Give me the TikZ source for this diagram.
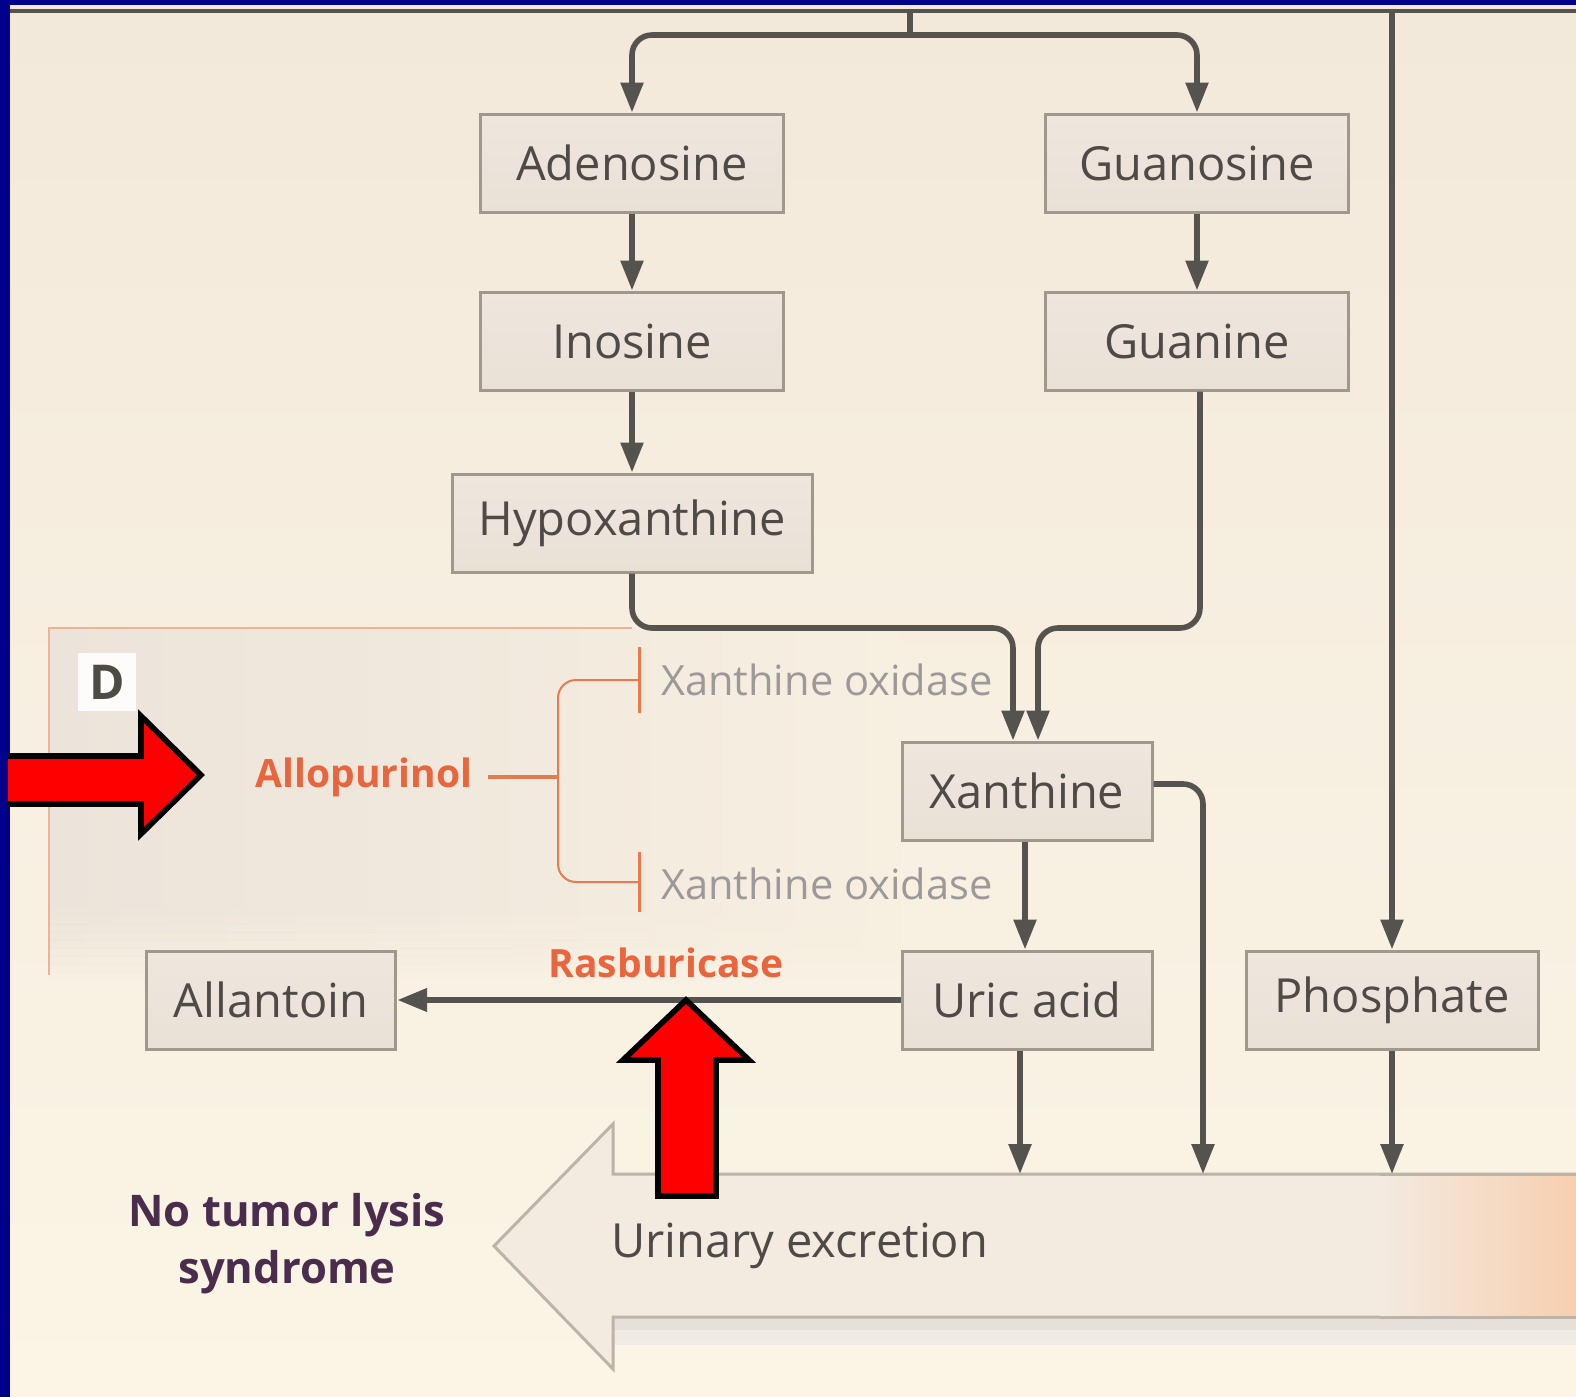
\documentclass[tikz,border=0pt]{standalone}
\usepackage{fontspec}
\setmainfont{Open Sans}
\usetikzlibrary{arrows.meta,calc}
\definecolor{bgblue}{HTML}{00008C}
\definecolor{bgtop}{HTML}{F3E9DB}
\definecolor{bgbot}{HTML}{FBF5E6}
\definecolor{boxfill}{HTML}{EFE7DE}
\definecolor{boxfillb}{HTML}{E9E0D6}
\definecolor{boxline}{HTML}{A0978D}
\definecolor{boxtext}{HTML}{4E4A46}
\definecolor{conn}{HTML}{55534E}
\definecolor{drug}{HTML}{E8653E}
\definecolor{drugline}{HTML}{E87A50}
\definecolor{enz}{HTML}{9C9A98}
\definecolor{panelline}{HTML}{EBB398}
\definecolor{panelfill}{HTML}{ECE3DA}
\definecolor{purp}{HTML}{4A2D4C}
\definecolor{exfill}{HTML}{F3EAE0}
\definecolor{expeach}{HTML}{F7CFB0}
\definecolor{exline}{HTML}{BDB3A8}
\tikzset{
  metab/.style={draw=boxline, line width=1.5pt, top color=boxfill, bottom color=boxfillb,
    minimum height=49pt, inner sep=0pt, text=boxtext, font=\fontsize{23.5}{28}\selectfont},
  arr/.style={draw=conn, line width=2.8pt, -{Triangle[length=15pt,width=11pt]}},
  plain/.style={draw=conn, line width=2.8pt},
  rc/.style={rounded corners=10pt},
  redarrow/.style={fill=red, draw=black, line width=2.8pt, line join=miter},
}
\begin{document}
\begin{tikzpicture}[x=0.5pt,y=-0.5pt]
\useasboundingbox (0,0) rectangle (1576,1397);
% background
\fill[bgblue] (0,0) rectangle (1576,1397);
\shade[top color=bgtop, bottom color=bgbot] (10,5) rectangle (1576,1397);
% panel D
\shade[left color=panelfill, right color=bgtop!50!bgbot] (49,628) rectangle (900,900);
\foreach \i in {0,...,9}{
  \shade[left color=panelfill, right color=bgtop!50!bgbot, opacity={1-\i/10}] (49,900+\i*8) rectangle (900,908+\i*8);
}
\draw[panelline, line width=1pt] (49,975) -- (49,628) -- (632,628);
\node[fill=white!85!bgtop, minimum size=29pt, inner sep=0pt, text=boxtext,
  font=\bfseries\fontsize{24}{30}\selectfont] (dlab) at (107,682) {D};

% top line
\draw[conn, line width=2.3pt] (10,11) -- (1576,11);

% metabolite boxes
\node[metab, minimum width=151.5pt] (aden) at (632,163) {Adenosine};
\node[metab, minimum width=151.5pt] (guano) at (1197,163) {Guanosine};
\node[metab, minimum width=151.5pt] (ino) at (632,341) {Inosine};
\node[metab, minimum width=151.5pt] (guan) at (1197,341) {Guanine};
\node[metab, minimum width=180pt] (hypo) at (632,523) {Hypoxanthine};
\node[metab, minimum width=125pt] (xan) at (1027,791) {Xanthine};
\node[metab, minimum width=125pt] (uric) at (1027,1000) {Uric acid};
\node[metab, minimum width=146pt] (phos) at (1392,1000) {Phosphate};
\node[metab, minimum width=124.5pt] (allan) at (271,1000) {Allantoin};

% urinary excretion arrow
\fill[gray!40, opacity=0.45] (613,1317) rectangle (1576,1330);
\fill[gray!25, opacity=0.4] (613,1330) rectangle (1576,1345);
\path[draw=exline, line width=1.5pt, fill=exfill] (1576,1174) -- (613,1174) -- (613,1124) -- (494,1246)
  -- (613,1369) -- (613,1317) -- (1576,1317);
\shade[left color=exfill, right color=expeach] (1380,1175) rectangle (1576,1316);
\draw[exline, line width=1.5pt] (1380,1174) -- (1576,1174) (1380,1317) -- (1576,1317);
\coordinate (exu) at (1020,1174);
\coordinate (exx) at (1203,1174);
\coordinate (exp) at (1392,1174);
\node[anchor=west, text=boxtext, font=\fontsize{23.5}{28}\selectfont] (urin) at (604,1246) {Urinary excretion};
\node[align=center, text=purp, font=\bfseries\fontsize{21.8}{28.5}\selectfont] (notls) at (287,1244) {No tumor lysis\\syndrome};

% top split
\coordinate (src) at (910,11);
\coordinate (split) at (910,35);
\draw[plain] (src) -- (split);
\draw[arr, rc] (split) -| (aden.north);
\draw[arr, rc] (split) -| (guano.north);
\coordinate (psrc) at (1392,11);
\draw[arr] (psrc) -- (phos.north);

% vertical chain
\draw[arr] (aden.south) -- (ino.north);
\draw[arr] (ino.south) -- (hypo.north);
\draw[arr] (guano.south) -- (guan.north);
\coordinate (jn) at (0,628);
\coordinate (xl) at ([xshift=-7pt]xan.north);
\coordinate (xr) at ([xshift=5.5pt]xan.north);
\draw[arr, rc] (hypo.south) |- (jn -| xl) -- (xl);
\draw[arr, rc] ([xshift=1.5pt]guan.south) |- (jn -| xr) -- (xr);
\draw[arr] ([xshift=-1pt]xan.south) -- ([xshift=-1pt]uric.north);
\draw[arr, rc] ([yshift=3.5pt]xan.east) -| (exx);
\draw[arr] (uric.south -| exu) -- (exu);
\draw[arr] (phos.south) -- (exp);
\draw[arr, line width=3.3pt] (uric.west) -- (allan.east);

% drugs
\node[text=enz, anchor=west, font=\fontsize{20.8}{24}\selectfont] (xo1) at (654,680) {Xanthine oxidase};
\node[text=enz, anchor=west, font=\fontsize{20.8}{24}\selectfont] (xo2) at (654,884) {Xanthine oxidase};
\node[text=drug, font=\bfseries\fontsize{19.5}{24}\selectfont, inner sep=0pt] (allo) at (364,777) {Allopurinol};
\node[text=drug, font=\bfseries\fontsize{19.5}{24}\selectfont] (rasb) at (666,963) {Rasburicase};
\coordinate (bj) at (558,777);
\coordinate (b1) at (641,680);
\coordinate (b2) at (641,882);
\draw[drugline!85!brown, line width=2pt] ([xshift=7.5pt]allo.east) -- (bj);
\draw[drugline, line width=1pt, rounded corners=9pt, {Bar[width=33pt,line width=1.6pt]}-{Bar[width=30pt,line width=1.6pt]}] (b1) -| (bj) |- (b2);

% red arrows
\draw[redarrow] (8,756) -- (141,756) -- (141,716) -- (201,775) -- (141,834) -- (141,804) -- (8,804);
\draw[redarrow] (658,1196) -- (658,1060) -- (623,1060) -- (686,1000) -- (749,1060) -- (716,1060) -- (716,1196) -- cycle;
\end{tikzpicture}
\end{document}
